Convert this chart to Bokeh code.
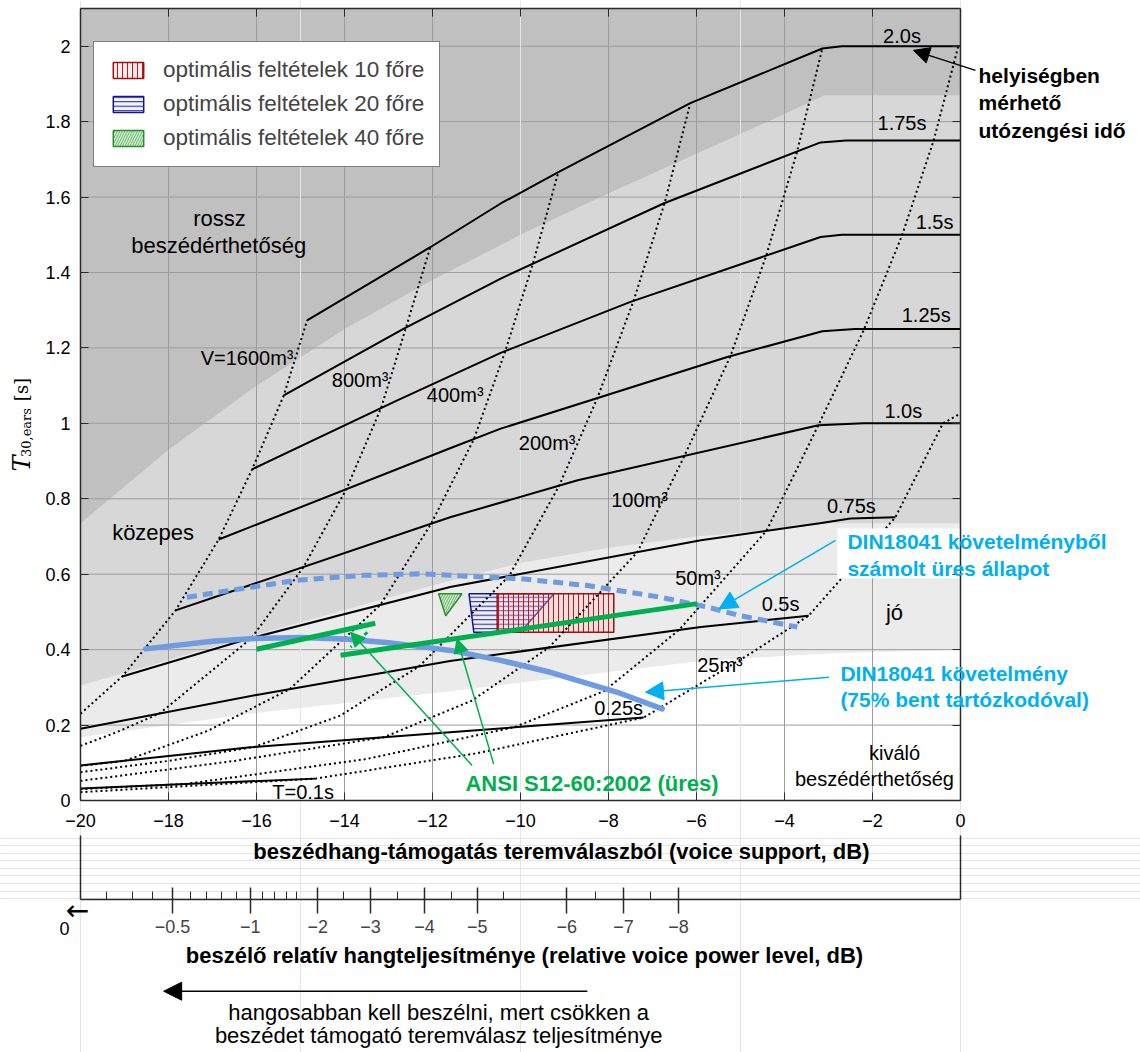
import math
from bokeh.plotting import figure
from bokeh.models import (Range1d, FixedTicker, LinearAxis, Label, Arrow, NormalHead,
                          Legend, LegendItem)
from bokeh.embed import file_html
from bokeh.resources import INLINE

FONT = "Liberation Sans"

# ---------------- axis ticks ----------------
x_ticks = [-20, -18, -16, -14, -12, -10, -8, -6, -4, -2, 0]
x_tick_labels = ["−20", "−18", "−16", "−14", "−12", "−10", "−8", "−6", "−4", "−2", "0"]
y_ticks = [0, 0.2, 0.4, 0.6, 0.8, 1, 1.2, 1.4, 1.6, 1.8, 2]
y_tick_labels = ["0", "0.2", "0.4", "0.6", "0.8", "1", "1.2", "1.4", "1.6", "1.8", "2"]

# secondary scale: relative voice power level, placed at voice-support positions
power_labels = ["−0.5", "−1", "−2", "−3", "−4", "−5", "−6", "−7", "−8"]
power_at_support = [-17.91, -16.14, -14.61, -13.41, -12.18, -10.98, -8.95, -7.66, -6.41]
power_minor_at_support = [-19.41, -18.82, -18.36, -17.50, -17.14, -16.80, -16.45, -15.86,
                          -15.59, -15.32, -15.09, -14.02, -12.80, -11.57, -10.39, -8.30, -7.05]

# ---------------- background zones (lower boundaries) ----------------
rossz_x = [-20, -18, -16, -14, -12, -10, -8, -6, -4, -3.1, 0]
rossz_y = [0.735, 0.93, 1.10, 1.25, 1.38, 1.50, 1.61, 1.715, 1.82, 1.87, 1.87]
kozepes_x = [-20, -16, -12, -10, -8, -6, -4, -3, 0]
kozepes_y = [0.305, 0.44, 0.57, 0.63, 0.67, 0.70, 0.72, 0.735, 0.735]
jo_x = [-20, -16.14, -11.6, -5.9, -3, 0]
jo_y = [0.168, 0.23, 0.29, 0.37, 0.39, 0.40]

# ---------------- constant reverberation-time lines ----------------
t200_x = [-14.85, -12.05, -10.45, -9.14, -6.14, -3.14, -2.7, 0]
t200_y = [1.273, 1.467, 1.583, 1.666, 1.849, 1.994, 2.0, 2.0]
t175_x = [-15.38, -12.65, -10.45, -6.75, -3.18, -2.6, 0]
t175_y = [1.074, 1.251, 1.384, 1.583, 1.745, 1.75, 1.75]
t150_x = [-16.1, -12.8, -10.45, -7.5, -3.18, -2.7, 0]
t150_y = [0.878, 1.061, 1.187, 1.322, 1.494, 1.5, 1.5]
t125_x = [-16.86, -11.6, -10.45, -5.3, -3.14, -2.4, 0]
t125_y = [0.692, 0.934, 0.986, 1.176, 1.244, 1.25, 1.25]
t100_x = [-17.84, -11.6, -8.7, -3.23, -2.2, 0]
t100_y = [0.504, 0.751, 0.849, 0.995, 1.0, 1.0]
t075_x = [-19.05, -16.14, -11.6, -5.9, -3.2, -2.5, -1.48]
t075_y = [0.329, 0.43, 0.566, 0.69, 0.735, 0.748, 0.751]
t050_x = [-20, -16, -11.6, -5.9, -3.45]
t050_y = [0.19, 0.28, 0.37, 0.46, 0.49]
t025_x = [-20, -16.14, -11.6, -7.2]
t025_y = [0.093, 0.141, 0.181, 0.22]
t010_x = [-20, -14.66]
t010_y = [0.032, 0.058]

# ---------------- constant volume lines ----------------
v1600_x = [-20, -19.05, -17.84, -16.86, -16.1, -15.38, -14.85]
v1600_y = [0.23, 0.329, 0.504, 0.692, 0.878, 1.074, 1.273]
v800_x = [-20, -19.2, -18.2, -16.12, -14.93, -13.96, -13.17, -12.6, -12.05]
v800_y = [0.145, 0.18, 0.231, 0.43, 0.619, 0.825, 1.040, 1.255, 1.467]
v400_x = [-20, -19.0, -17.1, -15.25, -13.19, -12.03, -11.06, -10.35, -9.72, -9.14]
v400_y = [0.092, 0.105, 0.185, 0.295, 0.518, 0.734, 0.958, 1.19, 1.423, 1.666]
v200_x = [-20, -18, -16.05, -14.1, -12.3, -10.26, -9.12, -8.25, -7.43, -6.72, -6.14]
v200_y = [0.075, 0.105, 0.142, 0.225, 0.356, 0.595, 0.835, 1.068, 1.325, 1.586, 1.849]
v100_x = [-20, -16.5, -13.1, -11.1, -9.35, -7.34, -6.27, -5.23, -4.42, -3.72, -3.14]
v100_y = [0.052, 0.105, 0.168, 0.265, 0.406, 0.659, 0.915, 1.178, 1.443, 1.718, 1.994]
v50_x = [-20, -17.6, -13.5, -10.15, -8.1, -6.4, -4.41, -3.23, -2.2, -1.33, -0.61, -0.05]
v50_y = [0.03, 0.044, 0.11, 0.194, 0.29, 0.452, 0.715, 0.995, 1.247, 1.498, 1.75, 2.0]
v25_x = [-20, -14.66, -11, -7.2, -5.91, -4.77, -3.45, -1.48, -0.4, 0]
v25_y = [0.022, 0.058, 0.125, 0.22, 0.31, 0.39, 0.49, 0.751, 1.0, 1.026]

# ---------------- DIN 18041 curves ----------------
din_x = [-18.52, -17, -16.14, -15, -14, -13, -12, -11.59, -10.5, -9.32, -7.8, -6.78]
din_y = [0.402, 0.422, 0.429, 0.432, 0.428, 0.418, 0.404, 0.398, 0.373, 0.34, 0.287, 0.243]
din_empty_x = [-17.58, -16.59, -15.08, -13.56, -12.27, -10.0, -8.48, -6.82, -5.76, -5.0, -3.71]
din_empty_y = [0.539, 0.557, 0.584, 0.597, 0.601, 0.588, 0.570, 0.539, 0.513, 0.49, 0.46]

# ---------------- ANSI S12-60 lines ----------------
ansi_long_x = [-14.09, -5.98]
ansi_long_y = [0.385, 0.522]
ansi_short_x = [-16.0, -13.3]
ansi_short_y = [0.401, 0.47]
ansi_dash_x = [-13.48, -13.86]
ansi_dash_y = [0.446, 0.407]

# ---------------- optimal regions ----------------
opt10_x = [-10.53, -7.88, -7.88, -10.53]
opt10_y = [0.548, 0.548, 0.446, 0.446]
opt20_x = [-11.17, -9.24, -10.0, -11.06]
opt20_y = [0.548, 0.548, 0.446, 0.446]
opt40_x = [-11.86, -11.33, -11.7]
opt40_y = [0.548, 0.548, 0.49]

# =====================================================================
# one canvas; the chart frame spans x -20..0, y 0..2.1 (44 px/dB, 792 px for 2.1 s)
PX_X = 44.0
PX_Y = 792 / 2.1
p = figure(width=1140, height=1052,
           x_range=Range1d(-20 - 80 / PX_X, -20 + 1060 / PX_X),
           y_range=Range1d(-252 / PX_Y, 800 / PX_Y),
           output_backend="svg", toolbar_location=None,
           x_axis_location=None, y_axis_location=None, min_border=0)
p.outline_line_color = None
p.background_fill_color = "white"
p.border_fill_color = "white"

TOP = 2.1
Y_SEC = -99 / PX_Y        # secondary scale line
Y_BRACKET = -35 / PX_Y    # top of the bracket under the main axis


def sx(px):
    return px / PX_X - 20 - 80 / PX_X


def sy(py):
    return (800 - py) / PX_Y


# zones
p.patch(jo_x + [0, -20], jo_y + [TOP, TOP], fill_color="#ebebeb", line_color=None, level="image")
p.patch(kozepes_x + [0, -20], kozepes_y + [TOP, TOP], fill_color="#d7d7d7", line_color=None, level="image")
p.patch(rossz_x + [0, -20], rossz_y + [TOP, TOP], fill_color="#c0c0c0", line_color=None, level="image")

# grid lines at the tick positions
GRID = "#9c9c9c"
p.segment(x0=x_ticks, y0=[0] * len(x_ticks), x1=x_ticks, y1=[TOP] * len(x_ticks),
          line_color=GRID, line_width=1, level="underlay")
p.segment(x0=[-20] * len(y_ticks), y0=y_ticks, x1=[0] * len(y_ticks), y1=y_ticks,
          line_color=GRID, line_width=1, level="underlay")

AX = "#2a2a2a"


def style_axis(ax, labels=True):
    ax.axis_line_color = AX
    ax.axis_line_width = 1.5
    ax.major_tick_line_color = AX
    ax.major_tick_in = 8
    ax.major_tick_out = 0
    ax.minor_tick_line_color = None
    ax.major_label_text_font = FONT
    ax.major_label_text_font_size = "18px"
    ax.major_label_text_color = "black" if labels else None


xax = LinearAxis(fixed_location=0, bounds=(-20, 0), ticker=FixedTicker(ticks=x_ticks),
                 major_label_overrides=dict(zip(x_ticks, x_tick_labels)))
style_axis(xax)
xax.major_label_standoff = 13
p.add_layout(xax, "below")

yax = LinearAxis(fixed_location=-20, bounds=(0, TOP), ticker=FixedTicker(ticks=y_ticks),
                 major_label_overrides=dict(zip(y_ticks, y_tick_labels)))
style_axis(yax)
yax.major_label_standoff = 10
p.add_layout(yax, "left")

tax = LinearAxis(fixed_location=TOP, bounds=(-20, 0), ticker=FixedTicker(ticks=x_ticks))
style_axis(tax, labels=False)
p.add_layout(tax, "above")
rax = LinearAxis(fixed_location=0, bounds=(0, TOP), ticker=FixedTicker(ticks=y_ticks))
style_axis(rax, labels=False)
p.add_layout(rax, "right")

# secondary scale with its bracket
sec = LinearAxis(fixed_location=Y_SEC, bounds=(-20, 0),
                 ticker=FixedTicker(ticks=power_at_support, minor_ticks=power_minor_at_support),
                 major_label_overrides=dict(zip(power_at_support, power_labels)))
sec.axis_line_color = AX
sec.axis_line_width = 1.5
sec.major_tick_line_color = AX
sec.major_tick_line_width = 1.5
sec.minor_tick_line_color = AX
sec.major_tick_in = 12
sec.major_tick_out = 14
sec.minor_tick_in = 8
sec.minor_tick_out = 0
sec.major_label_standoff = 6
sec.major_label_text_font = FONT
sec.major_label_text_font_size = "18px"
p.add_layout(sec, "below")
for loc, side in ((-20, "left"), (0, "right")):
    br = LinearAxis(fixed_location=loc, bounds=(Y_SEC, Y_BRACKET), ticker=FixedTicker(ticks=[]),
                    major_label_text_color=None, major_tick_line_color=None,
                    minor_tick_line_color=None, axis_line_color=AX, axis_line_width=1.5)
    p.add_layout(br, side)

# optimal regions
r40 = p.patch(opt40_x, opt40_y, fill_color="#c8ecc8", fill_alpha=0.8, hatch_pattern="/",
              hatch_color="#3a9a3a", hatch_scale=5, hatch_weight=0.7,
              line_color="#2e8b2e", line_width=1.5)
r20 = p.patch(opt20_x, opt20_y, fill_color="#eeeef8", fill_alpha=0.7, hatch_pattern="-",
              hatch_color="#1a1aa0", hatch_scale=4.5, hatch_weight=1,
              line_color="#141490", line_width=1.5)
r10 = p.patch(opt10_x, opt10_y, fill_color="#f8c8c8", fill_alpha=0.35, hatch_pattern="|",
              hatch_color="#c01818", hatch_scale=5, hatch_weight=1,
              line_color="#a01010", line_width=1.5)

# T lines
for xs, ys in [(t200_x, t200_y), (t175_x, t175_y), (t150_x, t150_y), (t125_x, t125_y),
               (t100_x, t100_y), (t075_x, t075_y), (t050_x, t050_y), (t025_x, t025_y),
               (t010_x, t010_y)]:
    p.line(xs, ys, line_color="black", line_width=2)

# V lines
for xs, ys in [(v1600_x, v1600_y), (v800_x, v800_y), (v400_x, v400_y), (v200_x, v200_y),
               (v100_x, v100_y), (v50_x, v50_y), (v25_x, v25_y)]:
    p.line(xs, ys, line_color="black", line_width=2, line_dash="2 3")

# DIN curves
BLUE = "#6f9be0"
p.line(din_x, din_y, line_color=BLUE, line_width=5.5, line_cap="round")
p.line(din_empty_x, din_empty_y, line_color=BLUE, line_width=5, line_dash="10 6")

# ANSI lines
GREEN = "#00b050"
p.line(ansi_long_x, ansi_long_y, line_color=GREEN, line_width=5)
p.line(ansi_short_x, ansi_short_y, line_color=GREEN, line_width=5)
p.line(ansi_dash_x, ansi_dash_y, line_color=GREEN, line_width=3, line_dash="4 3")

# white box behind the cyan annotation
p.quad(left=[-2.8], right=[0], top=[0.721], bottom=[0.589], fill_color="white", line_color=None)

# legend
legend = Legend(items=[LegendItem(label="optimális feltételek 10 főre", renderers=[r10]),
                       LegendItem(label="optimális feltételek 20 főre", renderers=[r20]),
                       LegendItem(label="optimális feltételek 40 főre", renderers=[r40])],
                location=(93, 885), glyph_width=38, glyph_height=20, label_standoff=16,
                padding=15, spacing=8, margin=0,
                label_text_font=FONT, label_text_font_size="22.5px",
                border_line_color="black", border_line_width=1.5,
                background_fill_color="white", background_fill_alpha=1)
p.add_layout(legend)


def lab(x, y, text, size="20px", color="black", align="center", style="normal",
        font=FONT, angle=0.0):
    p.add_layout(Label(x=x, y=y, text=text, text_font=font, text_font_size=size,
                       text_color=color, text_align=align, text_font_style=style,
                       text_baseline="middle", angle=angle))


# y-axis title (T with subscript "30,ears", then unit), rotated
UP = math.pi / 2
lab(sx(21), sy(463), "T", size="24px", font="DejaVu Serif", style="italic", angle=UP)
lab(sx(26), sy(432), "30,ears", size="13px", font="DejaVu Serif", angle=UP)
lab(sx(21), sy(389), "[s]", size="18px", font="DejaVu Serif", angle=UP)

# curve labels
lab(-1.33, 2.027, "2.0s")
lab(-1.33, 1.797, "1.75s")
lab(-0.59, 1.534, "1.5s")
lab(-0.78, 1.286, "1.25s")
lab(-1.30, 1.034, "1.0s")
lab(-2.48, 0.782, "0.75s")
lab(-4.09, 0.521, "0.5s")
lab(-7.77, 0.245, "0.25s")
lab(-14.94, 0.0225, "T=0.1s")
lab(-15.16, 1.172, "V=1600m³", align="right")
lab(-13.0, 1.114, "800m³", align="right")
lab(-10.84, 1.074, "400m³", align="right")
lab(-8.75, 0.947, "200m³", align="right")
lab(-6.65, 0.796, "100m³", align="right")
lab(-5.45, 0.59, "50m³", align="right")
lab(-4.95, 0.358, "25m³", align="right")

# zone labels
lab(-16.84, 1.544, "rossz", size="22px")
lab(-16.86, 1.472, "beszédérthetőség", size="22px")
lab(-18.35, 0.711, "közepes", size="22px")
lab(-1.5, 0.499, "jó", size="22px")
lab(-1.5, 0.127, "kiváló", size="20px")
lab(-0.15, 0.056, "beszédérthetőség", size="20px", align="right")

# right-side annotations
lab(0.41, 1.922, "helyiségben", size="21px", align="left", style="bold")
lab(0.41, 1.851, "mérhető", size="21px", align="left", style="bold")
lab(0.41, 1.777, "utózengési idő", size="21px", align="left", style="bold")
CYAN = "#00b0f0"
lab(-2.57, 0.687, "DIN18041 követelményből", size="21px", align="left", style="bold", color=CYAN)
lab(-2.57, 0.615, "számolt üres állapot", size="21px", align="left", style="bold", color=CYAN)
lab(-2.73, 0.337, "DIN18041 követelmény", size="21px", align="left", style="bold", color=CYAN)
lab(-2.73, 0.268, "(75% bent tartózkodóval)", size="21px", align="left", style="bold", color=CYAN)
lab(-8.375, 0.045, "ANSI S12-60:2002 (üres)", size="22px", style="bold", color=GREEN)

# arrows
p.add_layout(Arrow(end=NormalHead(size=16, fill_color="black", line_color="black"),
                   x_start=0.34, y_start=1.936, x_end=-1.07, y_end=1.989,
                   line_color="black", line_width=1.5))
p.add_layout(Arrow(end=NormalHead(size=18, fill_color=CYAN, line_color=CYAN),
                   x_start=-2.84, y_start=0.69, x_end=-5.49, y_end=0.508,
                   line_color=CYAN, line_width=1.5))
p.add_layout(Arrow(end=NormalHead(size=18, fill_color=CYAN, line_color=CYAN),
                   x_start=-2.99, y_start=0.327, x_end=-7.16, y_end=0.287,
                   line_color=CYAN, line_width=1.5))
p.add_layout(Arrow(end=NormalHead(size=14, fill_color=GREEN, line_color=GREEN),
                   x_start=-11.1, y_start=0.093, x_end=-13.86, y_end=0.446,
                   line_color=GREEN, line_width=1.5))
p.add_layout(Arrow(end=NormalHead(size=14, fill_color=GREEN, line_color=GREEN),
                   x_start=-10.61, y_start=0.097, x_end=-11.44, y_end=0.429,
                   line_color=GREEN, line_width=1.5))

# axis titles under the chart
lab(-9.07, sy(851), "beszédhang-támogatás teremválaszból (voice support, dB)",
    size="22px", style="bold")
lab(sx(64), sy(928), "0", size="18px")
lab(sx(77), sy(910), "←", size="28px", font="DejaVu Sans")
lab(-9.91, sy(955), "beszélő relatív hangteljesítménye (relative voice power level, dB)",
    size="22px", style="bold")

# note with arrow
p.add_layout(Arrow(end=NormalHead(size=18, fill_color="black", line_color="black"),
                   x_start=-8.48, y_start=sy(990.7), x_end=-18.11, y_end=sy(990.7),
                   line_color="black", line_width=1.5))
lab(-11.86, sy(1012), "hangosabban kell beszélni, mert csökken a", size="22px")
lab(-11.86, sy(1035), "beszédet támogató teremválasz teljesítménye", size="22px")

open("out.html", "w").write(file_html(p, INLINE))
